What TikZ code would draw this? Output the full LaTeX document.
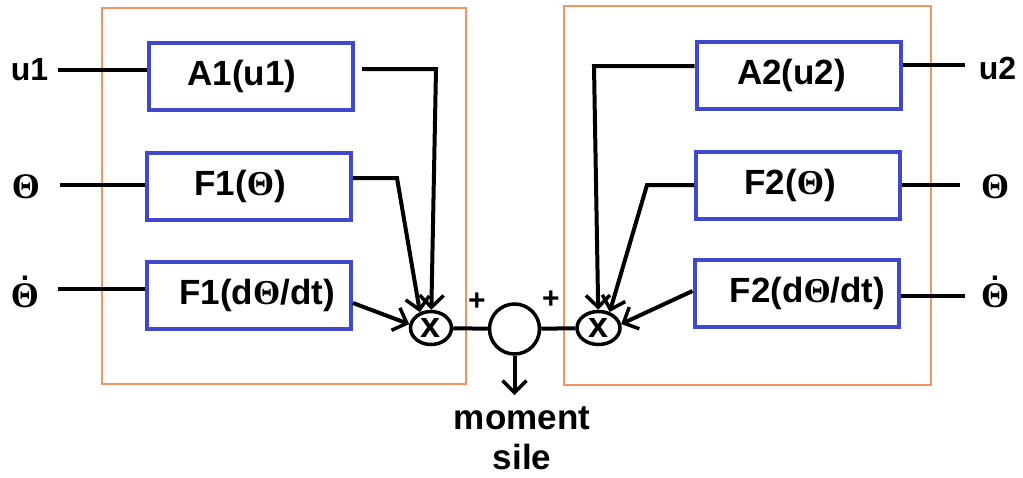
\documentclass[tikz,border=0pt]{standalone}
\usepackage{fontspec}
\setmainfont{Liberation Sans}
\newfontfamily\thf{Liberation Serif}
\usetikzlibrary{arrows.meta,shapes.geometric}
\definecolor{bluebox}{RGB}{64,72,204}
\definecolor{orng}{RGB}{242,150,95}
\newcommand{\Th}{{\thf\bfseries Θ}}
\newcommand{\Thd}{\vbox{\offinterlineskip\halign{\hfil##\hfil\cr{\fontsize{30}{30}\selectfont\bfseries .}\cr\noalign{\kern3pt}\Th\cr}}}
\begin{document}
\begin{tikzpicture}[x=1pt,y=-1pt,
  box/.style={draw=bluebox,line width=4pt,minimum width=204pt,minimum height=67pt,inner sep=0pt},
  txt/.style={font=\fontsize{35}{40}\selectfont\bfseries,inner sep=0pt},
  lab/.style={font=\fontsize{32}{38}\selectfont\bfseries,inner sep=0pt},
  thl/.style={font=\fontsize{36}{40}\selectfont\bfseries,inner sep=0pt},
  wire/.style={line width=4pt},
  arr/.style={wire,-{Straight Barb[length=12pt,width=24pt,line width=3.5pt]}},
  oframe/.style={draw=orng,line width=2pt},
  mul/.style={draw,ellipse,line width=3.5pt,minimum height=33pt,inner sep=0pt,font=\fontsize{36}{38}\selectfont\bfseries},
  plus/.style={font=\fontsize{30}{30}\selectfont\bfseries,inner sep=0pt},
  ]
\useasboundingbox (0,0) rectangle (1023,477);
% frames
\node[oframe,minimum width=364pt,minimum height=376pt,inner sep=0pt] (fr1) at (283.5,195.5) {};
\node[oframe,minimum width=367.5pt,minimum height=379pt,inner sep=0pt] (fr2) at (747.25,195.5) {};
% boxes
\node[box,label={[txt,xshift=-9pt]center:A1(u1)}] (A1) at (251,76.5) {};
\node[box,label={[txt,xshift=-9pt]center:F1(\Th)}] (F1T) at (249,186.5) {};
\node[box,label={[txt,xshift=8pt]center:F1(d\Th/dt)}] (F1d) at (249,295) {};
\node[box,label={[txt,xshift=-7pt]center:A2(u2)}] (A2) at (798.5,75) {};
\node[box,label={[txt,xshift=-8pt]center:F2(\Th)}] (F2T) at (798,185) {};
\node[box,label={[txt,xshift=11pt]center:F2(d\Th/dt)}] (F2d) at (796.5,293.5) {};
% multipliers and sum
\node[mul,minimum width=41pt] (mul1) at (431,328) {x};
\node[mul,minimum width=43pt] (mul2) at (598.5,328) {x};
\node[draw,circle,line width=3.5pt,minimum size=50pt,inner sep=0pt] (sum) at (514.5,329) {};
\node[plus] (p1) at (477,302) {+};
\node[plus] (p2) at (551,300) {+};
\node[align=center,inner sep=0pt,font=\fontsize{35}{40}\selectfont\bfseries] (mom) at (522,438) {moment\\sile};
% outer labels
\node[lab,anchor=base] (u1) at (29.5,80) {u1};
\node[thl,anchor=base] (th1) at (26,198.5) {\Th};
\node[thl,anchor=base] (thd1) at (25,307) {\Thd};
\node[lab,anchor=base] (u2) at (997.5,79) {u2};
\node[thl,anchor=base] (th2) at (995,198) {\Th};
\node[thl,anchor=base] (thd2) at (995,307) {\Thd};
% coordinates
\coordinate (pu1) at (58,70);
\coordinate (pth1) at (60,185);
\coordinate (pthd1) at (58,289);
\coordinate (a1o) at (362,69);
\coordinate (c1) at (436,69);
\coordinate (f1o) at (397,178);
\coordinate (c2) at (594,66);
\coordinate (f2o) at (647,185);
\coordinate (pu2) at (965,65);
\coordinate (pth2) at (960,185);
\coordinate (pthd2) at (965,296);
\coordinate (ms) at (514.5,395);
% connectors
\draw[wire] (pu1) -- (A1.west |- pu1);
\draw[wire] (pth1) -- (F1T.west |- pth1);
\draw[wire] (pthd1) -- (F1d.west |- pthd1);
\draw[arr] (a1o) -- (c1) -- (mul1);
\draw[arr] (F1T.east |- f1o) -- (f1o) -- (mul1.125);
\draw[arr] ([yshift=-8pt]F1d.east) -- (mul1.170);
\draw[wire] (mul1) -- (sum);
\draw[wire] (sum) -- (mul2);
\draw[arr] (sum) -- (ms);
\draw[arr] (A2.west |- c2) -- (c2) -- (mul2);
\draw[arr] (F2T.west |- f2o) -- (f2o) -- (mul2.55);
\draw[arr] ([yshift=2.5pt]F2d.west) -- (mul2.10);
\draw[wire] (A2.east |- pu2) -- (pu2);
\draw[wire] (F2T.east |- pth2) -- (pth2);
\draw[wire] (F2d.east |- pthd2) -- (pthd2);
\end{tikzpicture}
\end{document}
